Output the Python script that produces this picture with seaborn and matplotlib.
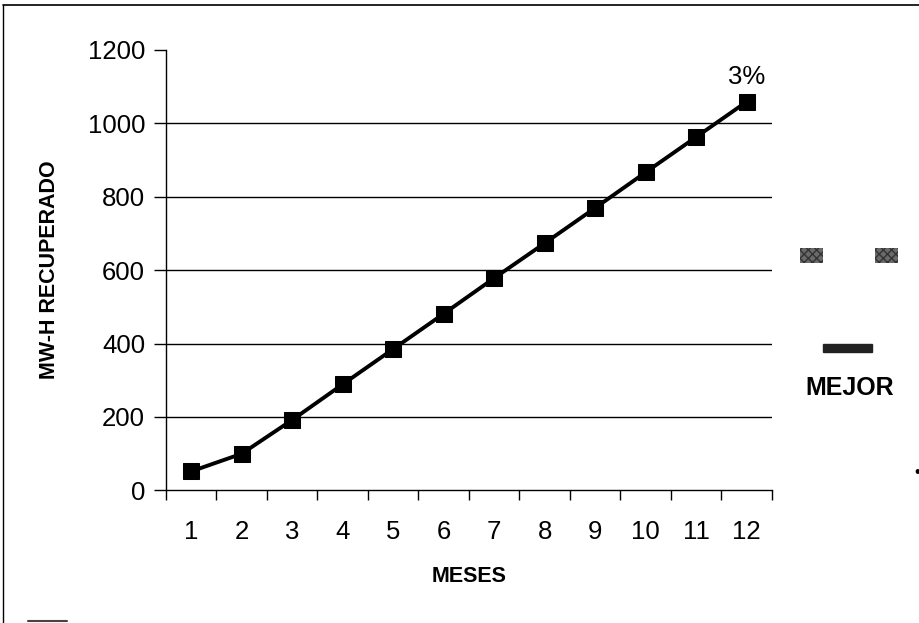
import matplotlib
matplotlib.use("Agg")
import matplotlib.pyplot as plt
from matplotlib.lines import Line2D
from matplotlib.patches import Rectangle
import seaborn as sns
import pandas as pd
import numpy as np

# Monthly recovered energy (MW-H)
meses = [1, 2, 3, 4, 5, 6, 7, 8, 9, 10, 11, 12]
mwh_recuperado = [52, 100, 192, 289, 385, 481, 578, 673, 769, 866, 962, 1058]
y_ticks = [0, 200, 400, 600, 800, 1000, 1200]
etiqueta_final = "3%"
leyenda = "MEJOR"

sns.set_theme(style="white")
plt.rcParams["font.family"] = ["Liberation Sans", "DejaVu Sans"]
plt.rcParams["text.color"] = "black"
plt.rcParams["axes.labelcolor"] = "black"

df = pd.DataFrame({"mes": meses, "mwh": mwh_recuperado})

fig = plt.figure(figsize=(9.19, 6.23), dpi=100)
ax = fig.add_axes([0.1806, 0.2127, 0.6594, 0.7078])

sns.lineplot(data=df, x="mes", y="mwh", ax=ax, color="black", linewidth=2.8,
             marker="s", markersize=11, markeredgecolor="black",
             markerfacecolor="black", zorder=5)

ax.set_xlim(0.5, 12.5)
ax.set_ylim(0, 1200)
ax.set_yticks(y_ticks)
ax.set_xticks(meses)
ax.set_xticklabels([str(m) for m in meses])
ax.tick_params(axis="x", which="major", length=0, labelsize=18.5, pad=21,
               colors="black")
ax.set_xticks(np.arange(0.5, 13, 1), minor=True)
ax.tick_params(axis="x", which="minor", length=7, width=1.0, color="black",
               direction="out", bottom=True)
ax.tick_params(axis="y", length=9, width=1.0, color="black", left=True,
               labelsize=18.5, pad=6, direction="out", labelcolor="black")

for v in y_ticks[1:-1]:
    ax.axhline(v, color="black", linewidth=1.0, zorder=1)

for side in ["top", "right"]:
    ax.spines[side].set_visible(False)
for side in ["left", "bottom"]:
    ax.spines[side].set_color("black")
    ax.spines[side].set_linewidth(1.0)

ax.set_xlabel("MESES", fontsize=15.5, fontweight="bold", labelpad=16,
              color="black")
ax.set_ylabel("MW-H RECUPERADO", fontsize=15.5, fontweight="bold",
              labelpad=20, color="black")
ax.grid(False)

ax.annotate(etiqueta_final, xy=(meses[-1], mwh_recuperado[-1]),
            xytext=(0, 9), textcoords="offset points", ha="center",
            va="bottom", fontsize=18.5, color="black")

# Legend fragments on the right
fig.patches.append(Rectangle((800 / 919, 1 - 263 / 623), 23 / 919, 15 / 623,
                             transform=fig.transFigure, facecolor="#6a6a6a",
                             edgecolor="#333333", hatch="xxxx", lw=0))
fig.patches.append(Rectangle((875 / 919, 1 - 263 / 623), 23 / 919, 15 / 623,
                             transform=fig.transFigure, facecolor="#6a6a6a",
                             edgecolor="#333333", hatch="xxxx", lw=0))
fig.patches.append(Rectangle((823 / 919, 1 - 352 / 623), 49 / 919, 8 / 623,
                             transform=fig.transFigure, color="#222222"))
fig.text(850 / 919, 1 - 388 / 623, leyenda, fontsize=18, fontweight="bold",
         ha="center", va="center", color="black")
fig.text(917 / 919, 1 - 473 / 623, "\u2022", fontsize=12, ha="center",
         va="center", color="black")

# Outer frame
fig.add_artist(Line2D([3 / 919, 1.0], [1 - 5 / 623, 1 - 5 / 623],
                      transform=fig.transFigure, color="black", lw=1.2))
fig.add_artist(Line2D([3 / 919, 3 / 919], [1 - 5 / 623, 0.0],
                      transform=fig.transFigure, color="black", lw=1.0))
fig.add_artist(Line2D([28 / 919, 67 / 919], [1 - 621 / 623, 1 - 621 / 623],
                      transform=fig.transFigure, color="#444444", lw=1.5))

fig.savefig("out.png", dpi=100, facecolor="white")
